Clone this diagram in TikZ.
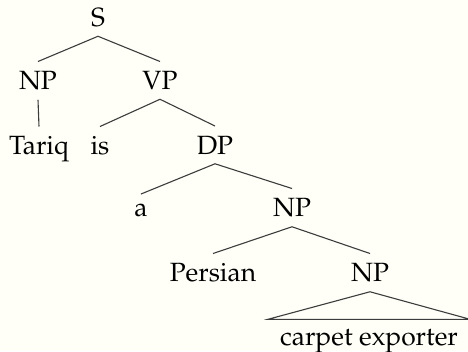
\documentclass[tikz,border=0pt]{standalone}
\usepackage[T1]{fontenc}
\usepackage{mathpazo}
\definecolor{paper}{RGB}{255,255,248}
\definecolor{edge}{RGB}{60,60,60}
\begin{document}
\begin{tikzpicture}[x=1pt,y=-1pt,
  lab/.style={anchor=base,inner xsep=0pt,inner ysep=9.5pt,font=\fontsize{26.4}{30}\selectfont},
  branch/.style={draw=edge,line width=1.1pt}]
  \fill[paper] (0,0) rectangle (468,351);
  \useasboundingbox (0,0) rectangle (468,351);

  % constituents
  \node[lab] (s)   at (98,26)    {S};
  \node[lab] (np1) at (38,89.5)  {NP};
  \node[lab] (vp)  at (160,89.5) {VP};
  \node[lab] (tq)  at (39,154.5) {Tariq};
  \node[lab] (is)  at (100,154.5){is};
  \node[lab] (dp)  at (215,154)  {DP};
  \node[lab] (a)   at (141,216.5){a};
  \node[lab] (np2) at (292,216.5){NP};
  \node[lab] (ps)  at (213,281.5){Persian};
  \node[lab] (np3) at (370,281.5){NP};
  \node[lab,inner xsep=12pt] (ce) at (369,345) {carpet exporter};

  % branches
  \draw[branch] (np1.north) -- (s.south) -- (vp.north);
  \draw[branch] (np1.south) -- (tq.north);
  \draw[branch] (is.north) -- (vp.south) -- (dp.north);
  \draw[branch] (a.north) -- (dp.south) -- (np2.north);
  \draw[branch] (ps.north) -- (np2.south) -- (np3.north);
  \draw[branch,line join=miter] (np3.south) -- (ce.north east) -- (ce.north west) -- cycle;
\end{tikzpicture}
\end{document}
